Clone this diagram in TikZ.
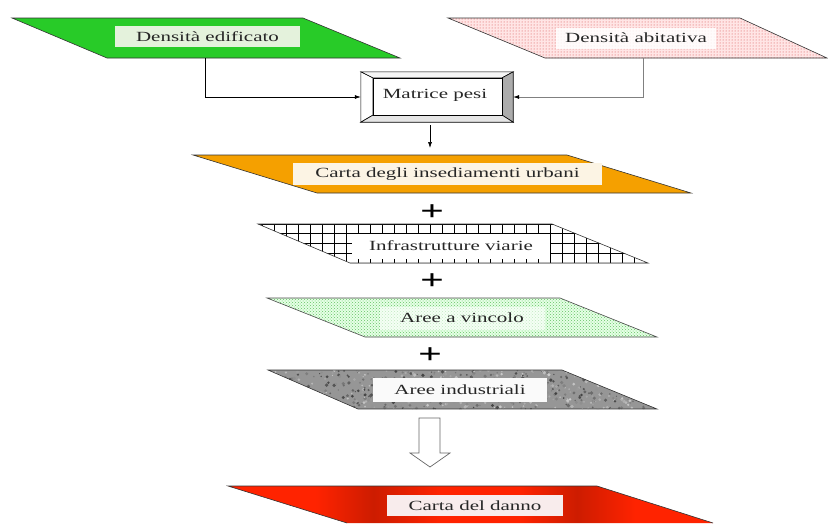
\documentclass[tikz,border=0pt]{standalone}
\usepackage{fontspec}
\setmainfont{Liberation Serif}
\newfontfamily\lbl[FakeStretch=1.5]{Liberation Serif}
\usetikzlibrary{patterns,arrows.meta,calc}
\definecolor{cgreen}{RGB}{40,203,40}
\definecolor{corange}{RGB}{245,160,0}
\definecolor{cred}{RGB}{255,35,0}
\definecolor{cdarkred}{RGB}{205,28,0}
\definecolor{cgray}{RGB}{150,150,150}
\definecolor{cdot}{RGB}{100,195,100}
\definecolor{cpinkdot}{RGB}{215,70,70}
\pgfdeclarehorizontalshading{redsh}{100bp}{color(0bp)=(cred); color(34bp)=(cred); color(40bp)=(cdarkred); color(47bp)=(cred); color(55bp)=(cred); color(61bp)=(cdarkred); color(67bp)=(cred); color(100bp)=(cred)}
\begin{document}
\begin{tikzpicture}[x=1pt,y=-1pt,
  shapeedge/.style={draw=black!80,line width=0.6pt},
  lblbox/.style={inner sep=0pt,minimum height=21pt,font=\lbl\fontsize{14}{16}\selectfont,text=black!85},
  conn/.style={line width=0.6pt,-{Latex[length=6pt,width=4pt,color=black]}},
  plussign/.style={font=\lbl\fontsize{28}{28}\selectfont\bfseries,inner sep=0pt},
  bevel/.style={draw=black,line width=0.6pt}
]
\useasboundingbox (0,0) rectangle (828,523);

% ---- Densita edificato (green)
\fill[cgreen] (12,18) -- (303,18) -- (400,58) -- (107,58) -- cycle;
\draw[shapeedge] (12,18) -- (303,18) -- (400,58) -- (107,58) -- cycle;
\node[lblbox,fill={rgb,255:red,228;green,242;blue,220},minimum width=185pt] (dens1) at (207.5,36.5) {Densità edificato};
\coordinate (greenbot) at (205,58);

% ---- Densita abitativa (pink dotted)
\fill[pink!40] (448,18) -- (740,18) -- (827,58) -- (545,58) -- cycle;
\fill[pattern=dots,pattern color=cpinkdot] (448,18) -- (740,18) -- (827,58) -- (545,58) -- cycle;
\draw[shapeedge] (448,18) -- (740,18) -- (827,58) -- (545,58) -- cycle;
\node[lblbox,fill=white,fill opacity=0.85,text opacity=1,minimum width=160pt] (dens2) at (636,38) {Densità abitativa};
\coordinate (pinkbot) at (643,58);

% ---- Matrice pesi (bevel box)
\node[minimum width=152pt,minimum height=50pt,inner sep=0pt] (matrice) at (437,97) {};
\coordinate (oNW) at (matrice.north west);
\coordinate (oNE) at (matrice.north east);
\coordinate (oSW) at (matrice.south west);
\coordinate (oSE) at (matrice.south east);
\coordinate (iNW) at ($(oNW)+(12,6)$);
\coordinate (iNE) at ($(oNE)+(-11,6)$);
\coordinate (iSW) at ($(oSW)+(12,-7)$);
\coordinate (iSE) at ($(oSE)+(-11,-7)$);
\filldraw[bevel,fill=white] (oNW) -- (iNW) -- (iSW) -- (oSW) -- cycle;
\filldraw[bevel,fill=gray!8] (oNW) -- (oNE) -- (iNE) -- (iNW) -- cycle;
\filldraw[bevel,fill=gray!65] (oNE) -- (oSE) -- (iSE) -- (iNE) -- cycle;
\filldraw[bevel,fill=gray!20] (oSW) -- (iSW) -- (iSE) -- (oSE) -- cycle;
\filldraw[bevel,fill=white] (iNW) rectangle (iSE);
\node[lblbox,minimum height=0pt] (mtext) at (435,95) {Matrice pesi};

% connectors to the matrix
\draw[conn] (greenbot) |- (matrice.west);
\draw[conn,draw=gray] (pinkbot) |- (matrice.east);
\coordinate (m1) at (430,125);
\coordinate (m2) at (430,148);
\draw[conn] (m1) -- (m2);

% ---- Carta degli insediamenti urbani (orange)
\fill[corange] (193,155) -- (567,155) -- (691,193) -- (317,193) -- cycle;
\draw[shapeedge] (193,155) -- (567,155) -- (691,193) -- (317,193) -- cycle;
\node[lblbox,fill={rgb,255:red,252;green,244;blue,228},minimum width=309pt,minimum height=22pt] (carta1) at (447.5,174) {Carta degli insediamenti urbani};

\node[plussign] (p1) at (432,213) {+};

% ---- Infrastrutture viarie (grid)
\begin{scope}
\clip (258,224) -- (552,224) -- (648,263) -- (350,263) -- cycle;
\fill[white] (258,224) rectangle (648,263);
\foreach \xx in {262,274,...,650} \draw[black,line width=0.6pt] (\xx,224) -- (\xx,263);
\foreach \yy in {224,233.75,243.5,253.25,263} \draw[black,line width=0.6pt] (250,\yy) -- (650,\yy);
\end{scope}
\draw[shapeedge] (258,224) -- (552,224) -- (648,263) -- (350,263) -- cycle;
\node[lblbox,fill=white,minimum width=198pt,minimum height=25pt] (infra) at (451,246) {Infrastrutture viarie};

\node[plussign] (p2) at (432,282) {+};

% ---- Aree a vincolo (green dotted)
\fill[green!10] (267,298) -- (560,298) -- (657,337) -- (365,337) -- cycle;
\fill[pattern=crosshatch dots,pattern color=cdot] (267,298) -- (560,298) -- (657,337) -- (365,337) -- cycle;
\draw[draw=black!70,line width=0.6pt] (267,298) -- (560,298) -- (657,337) -- (365,337) -- cycle;
\node[lblbox,fill=white,fill opacity=0.6,text opacity=1,minimum width=165pt,minimum height=23pt] (vincolo) at (462,318) {Aree a vincolo};

\node[plussign] (p3) at (430,356) {+};

% ---- Aree industriali (granite)
\begin{scope}
\clip (268,370) -- (562,370) -- (657,409) -- (358,409) -- cycle;
\fill[cgray] (268,370) rectangle (657,409);
\pgfmathsetseed{7}
\foreach \i in {1,...,700}{
  \pgfmathsetmacro\px{268+rnd*389}
  \pgfmathsetmacro\py{370+rnd*39}
  \pgfmathsetmacro\pc{int(20+rnd*55)}
  \pgfmathsetmacro\pr{0.6+rnd*1.3}
  \fill[black!\pc] (\px,\py) circle[radius=\pr];
}
\end{scope}
\draw[shapeedge] (268,370) -- (562,370) -- (657,409) -- (358,409) -- cycle;
\node[lblbox,fill=gray!4,minimum width=174pt,minimum height=24pt] (indus) at (460,390) {Aree industriali};

% ---- hollow arrow
\coordinate (ha1) at (419,418);
\coordinate (ha2) at (440,418);
\coordinate (ha3) at (440,453);
\coordinate (ha4) at (450,453);
\coordinate (ha5) at (430,467);
\coordinate (ha6) at (410,453);
\coordinate (ha7) at (419,453);
\filldraw[fill=white,draw=black!60,line width=0.7pt] (ha1) -- (ha2) -- (ha3) -- (ha4) -- (ha5) -- (ha6) -- (ha7) -- cycle;

% ---- Carta del danno (red)
\shade[shading=redsh] (228,486) -- (597,486) -- (713,523) -- (347,523) -- cycle;
\draw[shapeedge] (347,523) -- (228,486) -- (597,486) -- (713,523);
\node[lblbox,fill={rgb,255:red,248;green,236;blue,236},minimum width=176pt] (danno) at (475,505.5) {Carta del danno};
\end{tikzpicture}
\end{document}
